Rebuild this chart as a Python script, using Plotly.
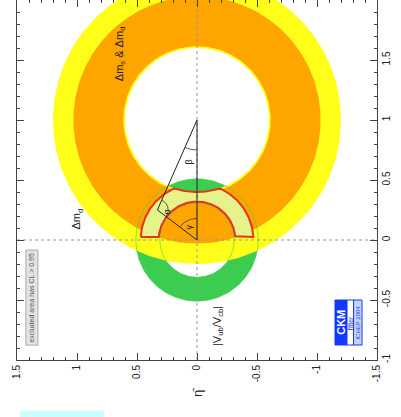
import numpy as np
import plotly.graph_objects as go

# ---- data (rho-bar, eta-bar) ----
DM_CENTER = [1.0, 0.0]            # centre of the Delta m_s & Delta m_d ring (rho, eta)
DM_RADII_95 = [0.60, 1.20]        # yellow band
DM_RADII_68 = [0.615, 1.03]       # orange band
VUB_CENTER = [0.0, 0.0]
VUB_RADII = [0.31, 0.51]          # green band
FIT_RADII = [0.32, 0.47]          # global fit region (around origin)
FIT_DM_MIN = 0.60                 # min distance from DM centre
FIT_RHO_MIN = 0.025
APEX = [0.25, 0.33]               # (rho, eta) of triangle apex
ETA_TICKS = [1.5, 1, 0.5, 0, -0.5, -1, -1.5]
RHO_TICKS = [-1, -0.5, 0, 0.5, 1, 1.5, 2]

YELLOW = "#ffff1a"
ORANGE = "#ffa500"
GREEN = "#3ccc50"
RED = "#e8321c"
FITFILL = "#e6f28a"
BLUE = "#1438ff"

def arc(c, r, a0, a1, n=200):
    t = np.linspace(a0, a1, n)
    rho = c[0] + r * np.cos(t)
    eta = c[1] + r * np.sin(t)
    return list(eta), list(rho)  # x = eta, y = rho

def annulus(c, rin, rout):
    xo, yo = arc(c, rout, 0, 2 * np.pi, 300)
    xi, yi = arc(c, rin, 2 * np.pi, 0, 300)
    return xo + [None] + xi, yo + [None] + yi

fig = go.Figure()

# V_ub / V_cb ring
x, y = annulus(VUB_CENTER, *VUB_RADII)
fig.add_trace(go.Scatter(x=x, y=y, fill="toself", fillcolor=GREEN, line=dict(width=0),
                         mode="lines", hoverinfo="skip"))
# Delta m rings
x, y = annulus(DM_CENTER, *DM_RADII_95)
fig.add_trace(go.Scatter(x=x, y=y, fill="toself", fillcolor=YELLOW, line=dict(width=0),
                         mode="lines", hoverinfo="skip"))
x, y = annulus(DM_CENTER, *DM_RADII_68)
fig.add_trace(go.Scatter(x=x, y=y, fill="toself", fillcolor=ORANGE, line=dict(width=0),
                         mode="lines", hoverinfo="skip"))
# faint green outlines showing through
for r in VUB_RADII:
    x, y = arc(VUB_CENTER, r, 0, 2 * np.pi, 300)
    fig.add_trace(go.Scatter(x=x, y=y, mode="lines", line=dict(color="rgba(60,200,80,0.55)", width=1),
                             hoverinfo="skip"))

# global fit region
r0, r1 = FIT_RADII
d = DM_CENTER[0]
rho_i = (r1 ** 2 - FIT_DM_MIN ** 2 + d ** 2) / (2 * d)
eta_i = np.sqrt(r1 ** 2 - rho_i ** 2)
phi_int = np.arctan2(eta_i, rho_i)
phi_out = np.arccos(FIT_RHO_MIN / r1)
phi_in = np.arccos(FIT_RHO_MIN / r0)
psi_i = np.arctan2(eta_i, rho_i - d)
px, py = [], []
a, b = arc(VUB_CENTER, r1, phi_out, phi_int, 80); px += a; py += b
a, b = arc(DM_CENTER, FIT_DM_MIN, psi_i, 2 * np.pi - psi_i, 80); px += a; py += b
a, b = arc(VUB_CENTER, r1, -phi_int, -phi_out, 80); px += a; py += b
a, b = arc(VUB_CENTER, r0, -phi_in, phi_in, 160); px += a; py += b
px.append(px[0]); py.append(py[0])
fig.add_trace(go.Scatter(x=px, y=py, fill="toself", fillcolor=FITFILL, mode="lines",
                         line=dict(color=RED, width=2), hoverinfo="skip"))

# dotted zero lines
fig.add_trace(go.Scatter(x=[1.5, -1.5], y=[0, 0], mode="lines",
                         line=dict(color="#999", width=1, dash="dot"), hoverinfo="skip"))
fig.add_trace(go.Scatter(x=[0, 0], y=[-1, 2], mode="lines",
                         line=dict(color="#999", width=1, dash="dot"), hoverinfo="skip"))

# unitarity triangle
fig.add_trace(go.Scatter(x=[0, 0, APEX[1], 0], y=[0, 1, APEX[0], 0], mode="lines",
                         line=dict(color="#222", width=1), hoverinfo="skip"))
# angle arcs
ang_apex_from0 = np.arctan2(APEX[1], APEX[0])
a, b = arc([0, 0], 0.18, 0, ang_apex_from0, 40)
fig.add_trace(go.Scatter(x=a, y=b, mode="lines", line=dict(color="#333", width=0.8), hoverinfo="skip"))
ang_apex_from1 = np.arctan2(APEX[1], APEX[0] - 1)
a, b = arc([1, 0], 0.25, np.pi, ang_apex_from1, 40)
fig.add_trace(go.Scatter(x=a, y=b, mode="lines", line=dict(color="#333", width=0.8), hoverinfo="skip"))
t0 = np.arctan2(-APEX[1], -APEX[0])
t1 = np.arctan2(-APEX[1], 1 - APEX[0])
a, b = arc(APEX, 0.09, t1, t0, 30)
fig.add_trace(go.Scatter(x=a, y=b, mode="lines", line=dict(color="#333", width=0.8), hoverinfo="skip"))

FONT = "Liberation Sans, Arial, sans-serif"
def label(text, eta, rho, size=11, color="#222", **kw):
    fig.add_annotation(x=eta, y=rho, xref="x", yref="y", text=text, showarrow=False,
                       textangle=-90, font=dict(family=FONT, size=size, color=color), **kw)

# CKMfitter logo backgrounds
fig.add_shape(type="rect", xref="x", yref="y", x0=-1.15, x1=-1.25, y0=-0.5, y1=-0.875,
              fillcolor=BLUE, line=dict(color=BLUE, width=1))
fig.add_shape(type="rect", xref="x", yref="y", x0=-1.25, x1=-1.305, y0=-0.5, y1=-0.875,
              fillcolor="white", line=dict(color=BLUE, width=1))
fig.add_shape(type="rect", xref="x", yref="y", x0=-1.305, x1=-1.375, y0=-0.5, y1=-0.875,
              fillcolor="#c8d6ff", line=dict(color=BLUE, width=1))

label("Δm<sub>s</sub> &amp; Δm<sub>d</sub>", 0.64, 1.55, 11)
label("Δm<sub>d</sub>", 1.0, 0.17, 11)
label("|V<sub>ub</sub>/V<sub>cb</sub>|", -0.18, -0.72, 11)
label("α", 0.25, 0.23, 9)
label("β", 0.07, 0.65, 9)
label("γ", 0.07, 0.11, 9)
label("excluded area has CL &gt; 0.95", 1.375, -0.48, 7, "#555",
      bgcolor="#e4e4e4", bordercolor="#aaa", borderwidth=1, borderpad=2)
label("<b>CKM</b>", -1.2, -0.69, 11, "white")
label("fitter", -1.278, -0.69, 7, BLUE)
label("ICHEP 2004", -1.34, -0.69, 6, BLUE)
fig.add_annotation(x=0, y=-0.11, xref="x", yref="paper", text="η̄", showarrow=False,
                   textangle=-90, font=dict(family=FONT, size=13, color="#222"))
fig.add_shape(type="rect", xref="paper", yref="paper", x0=0.008, x1=0.242, y0=-0.158, y1=-0.14,
              fillcolor="#ccffff", line=dict(width=0))

axis_common = dict(showgrid=False, zeroline=False, showline=True, linecolor="#444", linewidth=1,
                   mirror="ticks", ticks="inside", ticklen=7, tickcolor="#444", tickangle=-90,
                   tickfont=dict(family=FONT, size=10, color="#222"),
                   minor=dict(dtick=0.1, ticks="inside", ticklen=3, tickcolor="#444"))
fig.update_xaxes(range=[1.5, -1.5], tickvals=ETA_TICKS, ticktext=[f"{v:g}" for v in ETA_TICKS],
                 **axis_common)
fig.update_yaxes(range=[-1, 2], side="right", tickvals=RHO_TICKS,
                 ticktext=[f"{v:g}" for v in RHO_TICKS], **axis_common)
fig.update_layout(width=401, height=417, margin=dict(l=17, r=24, t=0, b=57),
                  paper_bgcolor="white", plot_bgcolor="white", showlegend=False)
fig.write_html("out.html", config={"displayModeBar": False, "staticPlot": True},
               post_script="document.body.style.margin='0';")
